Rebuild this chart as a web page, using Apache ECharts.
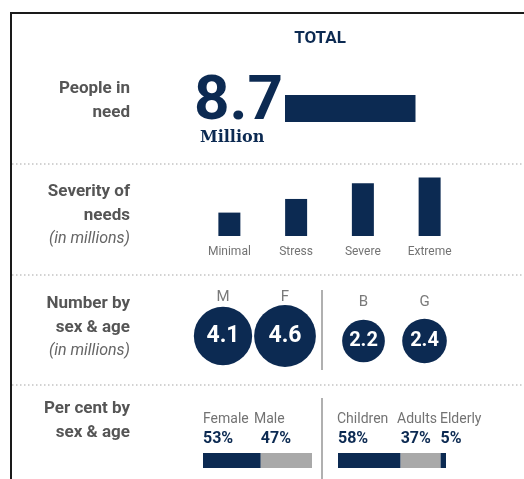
<!DOCTYPE html>
<html>
<head>
<meta charset="utf-8">
<script src="https://cdn.jsdelivr.net/npm/echarts@6/dist/echarts.min.js"></script>
<style>
  html, body { margin: 0; padding: 0; background: #ffffff; }
  #chart { width: 524px; height: 479px; }
</style>
</head>
<body>
<div id="chart"></div>
<script>
// People in need (millions)
const peopleInNeed = 8.7;

// Severity of needs (millions)
const severityCats = ['Minimal', 'Stress', 'Severe', 'Extreme'];
const severityVals = [1.2, 1.9, 2.7, 3.0];

// Number by sex & age (millions)
const adultCats = ['M', 'F'];
const adultVals = [4.1, 4.6];
const childCats = ['B', 'G'];
const childVals = [2.2, 2.4];

// Per cent by sex & age
const sexCats = ['Female', 'Male'];
const sexPct = [53, 47];
const ageCats = ['Children', 'Adults', 'Elderly'];
const agePct = [58, 37, 5];

const NAVY = '#0c2a52';
const GREY_BAR = '#a9a9a9';
const HEAD = '#555555';
const SOFT = '#737373';
const FONT = 'Roboto, "Liberation Sans", sans-serif';

const chart = echarts.init(document.getElementById('chart'));

// Row headings, right-aligned in the left column
function heading(lines, y0) {
  return lines.map((ln, i) => ({
    type: 'text',
    x: 130,
    y: y0 + i * 23.5,
    style: {
      text: ln.t,
      align: 'right',
      verticalAlign: 'middle',
      fontFamily: FONT,
      fontSize: ln.italic ? 16 : 17,
      fontWeight: ln.italic ? 'normal' : 'bold',
      fontStyle: ln.italic ? 'italic' : 'normal',
      fill: ln.italic ? '#666666' : HEAD
    }
  }));
}

function dotted(y) {
  return {
    type: 'line',
    shape: { x1: 12, y1: y, x2: 524, y2: y },
    style: { stroke: '#c4c4c4', lineWidth: 1.5, lineDash: [1.5, 2.5] }
  };
}

function caption(t, x) {
  return {
    type: 'text', x: x, y: 419,
    style: { text: t, align: 'left', verticalAlign: 'middle', fontFamily: FONT, fontSize: 14, fill: SOFT }
  };
}

const graphics = [
  // frame
  { type: 'polyline', shape: { points: [[11, 479], [11, 13], [524, 13]] },
    style: { stroke: '#1a1a1a', lineWidth: 2, fill: null } },
  { type: 'text', x: 320, y: 39,
    style: { text: 'TOTAL', align: 'center', verticalAlign: 'middle', fontFamily: FONT, fontSize: 17, fontWeight: 'bold', fill: NAVY } },
  { type: 'text', x: 194, y: 103,
    style: { text: String(peopleInNeed), align: 'left', verticalAlign: 'middle', fontFamily: FONT, fontSize: 62, fontWeight: 'bold', fill: NAVY } },
  { type: 'text', x: 200, y: 138,
    style: { text: 'Million', align: 'left', verticalAlign: 'middle', fontFamily: '"DejaVu Serif", serif', fontSize: 16, fontWeight: 'bold', fill: NAVY } },
  dotted(164), dotted(275), dotted(385),
  // separators between sex and age groups
  { type: 'line', shape: { x1: 322, y1: 290, x2: 322, y2: 370 }, style: { stroke: '#b0b0b0', lineWidth: 2 } },
  { type: 'line', shape: { x1: 322, y1: 398, x2: 322, y2: 479 }, style: { stroke: '#b0b0b0', lineWidth: 2 } },
  caption(sexCats[0], 203), caption(sexCats[1], 254),
  caption(ageCats[0], 337), caption(ageCats[1], 397), caption(ageCats[2], 440)
].concat(
  heading([{ t: 'People in' }, { t: 'need' }], 89),
  heading([{ t: 'Severity of' }, { t: 'needs' }, { t: '(in millions)', italic: true }], 192),
  heading([{ t: 'Number by' }, { t: 'sex & age' }, { t: '(in millions)', italic: true }], 304),
  heading([{ t: 'Per cent by' }, { t: 'sex & age' }], 409)
);

const hiddenValue = (min, max, gridIndex) => ({
  type: 'value', gridIndex, min, max, show: false
});
const hiddenCat = (data, gridIndex) => ({
  type: 'category', gridIndex, data, show: false
});
const circleAxis = (data, gridIndex) => ({
  type: 'category', gridIndex, data, position: 'top',
  axisLine: { show: false }, axisTick: { show: false },
  axisLabel: { color: '#7a7a7a', fontFamily: FONT, fontSize: 15, margin: 3 }
});

// circle area proportional to value
const circleSize = v => 28.8 * Math.sqrt(v[2]);

function pctSeries(name, value, color, stack, xi) {
  return {
    type: 'bar', name, stack, xAxisIndex: xi, yAxisIndex: xi,
    data: [value], barWidth: 15, itemStyle: { color },
    label: {
      show: true, position: [0, -6], align: 'left', verticalAlign: 'bottom',
      formatter: '{c}%', fontFamily: FONT, fontSize: 16, fontWeight: 'bold', color: NAVY
    }
  };
}

chart.setOption({
  backgroundColor: '#ffffff',
  animation: false,
  graphic: graphics,
  grid: [
    { left: 285, top: 95, width: 150, height: 27 },
    { left: 196, top: 158, width: 267, height: 78 },
    { left: 192, top: 308, width: 124, height: 56 },
    { left: 333, top: 313, width: 122, height: 56 },
    { left: 203, top: 453, width: 109, height: 15 },
    { left: 338, top: 453, width: 108, height: 15 }
  ],
  xAxis: [
    hiddenValue(0, 10, 0),
    {
      type: 'category', gridIndex: 1, data: severityCats,
      axisLine: { show: false }, axisTick: { show: false },
      axisLabel: { color: SOFT, fontFamily: FONT, fontSize: 12, margin: 10 }
    },
    circleAxis(adultCats, 2),
    circleAxis(childCats, 3),
    hiddenValue(0, 100, 4),
    hiddenValue(0, 100, 5)
  ],
  yAxis: [
    hiddenCat(['Total'], 0),
    hiddenValue(0, 4, 1),
    hiddenValue(-1, 1, 2),
    hiddenValue(-1, 1, 3),
    hiddenCat(['Sex'], 4),
    hiddenCat(['Age'], 5)
  ],
  series: [
    {
      type: 'bar', xAxisIndex: 0, yAxisIndex: 0, data: [peopleInNeed],
      barWidth: 27, itemStyle: { color: NAVY }
    },
    {
      type: 'bar', xAxisIndex: 1, yAxisIndex: 1, data: severityVals,
      barWidth: 22, itemStyle: { color: NAVY }
    },
    {
      type: 'scatter', xAxisIndex: 2, yAxisIndex: 2,
      data: adultVals.map((v, i) => [i, 0, v]),
      symbolSize: circleSize, itemStyle: { color: NAVY, opacity: 1 },
      label: { show: true, position: 'inside', formatter: p => p.value[2].toFixed(1),
        color: '#ffffff', fontFamily: FONT, fontSize: 23, fontWeight: 'bold' }
    },
    {
      type: 'scatter', xAxisIndex: 3, yAxisIndex: 3,
      data: childVals.map((v, i) => [i, 0, v]),
      symbolSize: circleSize, itemStyle: { color: NAVY, opacity: 1 },
      label: { show: true, position: 'inside', formatter: p => p.value[2].toFixed(1),
        color: '#ffffff', fontFamily: FONT, fontSize: 20, fontWeight: 'bold' }
    },
    pctSeries(sexCats[0], sexPct[0], NAVY, 'sex', 4),
    pctSeries(sexCats[1], sexPct[1], GREY_BAR, 'sex', 4),
    pctSeries(ageCats[0], agePct[0], NAVY, 'age', 5),
    pctSeries(ageCats[1], agePct[1], GREY_BAR, 'age', 5),
    pctSeries(ageCats[2], agePct[2], NAVY, 'age', 5)
  ]
});
</script>
</body>
</html>
